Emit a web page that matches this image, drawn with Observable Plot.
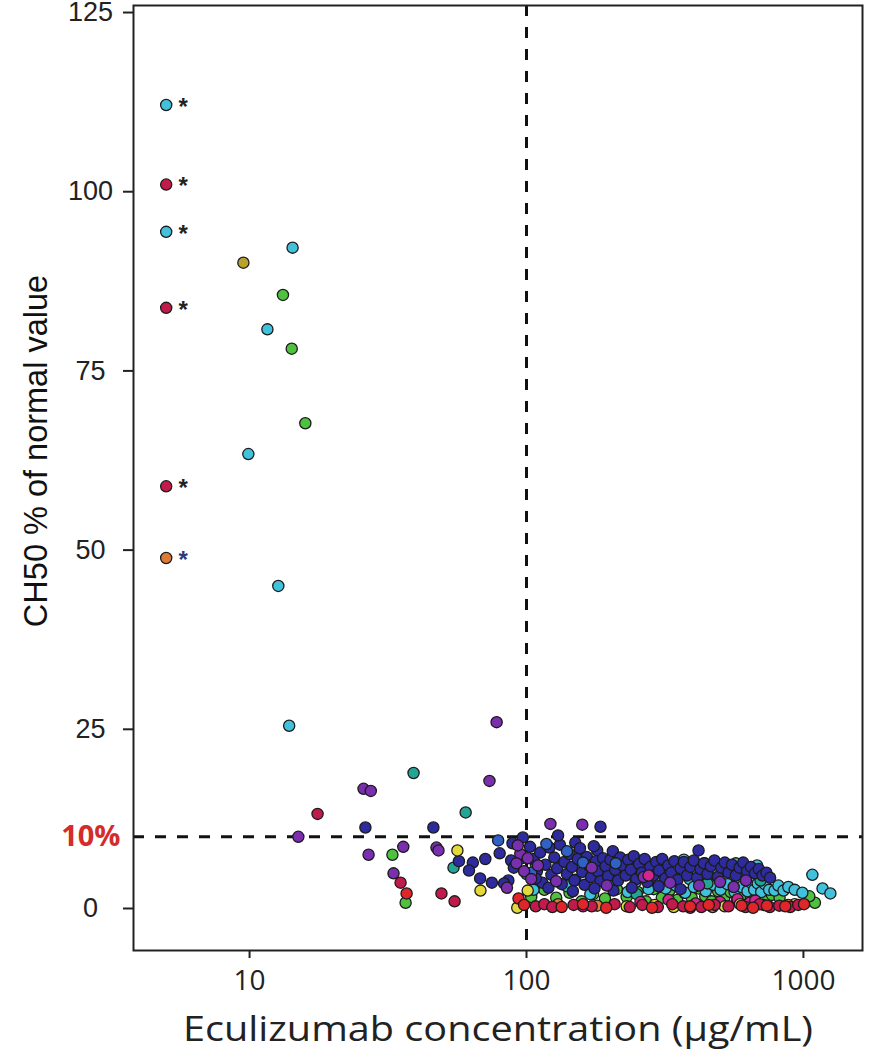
<!DOCTYPE html>
<html><head><meta charset="utf-8">
<script src="https://cdn.jsdelivr.net/npm/d3@7"></script>
<script src="https://cdn.jsdelivr.net/npm/@observablehq/plot@0.6"></script>
<style>body{margin:0;background:#fff}#chart svg{display:block}</style>
</head><body><div id="chart"></div>
<script>
// ---- data: [eculizumab concentration (µg/mL), CH50 % of normal value] ----
const navy = [[26.2,11.3],[46.1,11.3],[89,9.1],[64,6.4],[71,6.9],[80,7.7],[88,6.7],[90,5.7],[86,3.9],[83,3.5],[75,3.6],[68,4.2],[62,5.3],[57,6.6],[97,9.9],
 [185,11.4],[150,9.2],[180,8.1],[418,8.1],
 [103,8.6],[106,6.9],[109,5.2],[112,7.8],[114,3.6],[117,6.1],[121,8.5],[123,4.7],[126,7.1],[129,5.6],[132,8.9],[134,3.4],[137,6.5],[140,4.8],[143,7.6],[146,5.8],[149,3.9],[153,6.9],[156,8.4],[159,5.1],[162,3.3],[165,7.2],[168,6.0],[171,4.4],[175,8.7],[178,6.6],[181,5.2],[185,3.8],[189,7.0],[193,5.9],[197,4.5],[201,6.8],[205,8.0],[209,5.4],[214,3.9],[218,7.1],[223,6.0],[228,4.6],[233,6.8],[238,5.4],[244,7.3],[249,4.1],[255,6.2],[261,5.0],[267,6.9],[273,3.7],[280,5.8],[287,4.6],[294,6.5],[301,5.3],[309,6.9],[317,4.2],[325,6.0],[333,5.0],[342,6.6],[351,4.0],[360,5.6],[370,6.5],[380,4.6],[391,5.8],[402,6.7],[413,4.3],[425,5.5],[437,6.3],[450,4.8],[463,5.9],[477,6.7],[491,4.4],[505,5.7],[520,6.4],[536,5.0],[552,6.1],[570,4.6],[588,5.7],[606,6.4],[626,5.2],[646,5.8],[668,4.9],[690,5.5],[712,4.6],[735,5.0],[758,4.3],
 [120,2.9],[147,2.4],[176,2.8],[206,2.5],[240,2.9],[300,3.1],[360,2.7],[108,4.2],[130,10.2]];
const blue = [[79,9.5],[118,9.0],[96,7.0],[140,8.0],[210,6.3],[104,5.0],[160,6.4]];
const purple = [[15,10.0],[25.8,16.7],[27.4,16.4],[26.9,7.5],[33.1,4.9],[35.9,8.6],[47.3,8.5],[48.1,8.1],[73.5,17.8],[78,26.0],[122,11.8],[159,11.7],[95,7.6],[92,6.3],[98,5.2],[101,7.0],[104,4.1],[93,8.8],[110,6.0],[128,3.8],[172,5.7],[195,3.2],[265,4.4],[330,3.6],[420,3.2],[500,3.7],[560,3.0],[620,3.9],[85,2.9]];
const cyan = [[5,112.1],[5,94.4],[14.3,92.2],[11.6,80.8],[9.9,63.4],[12.7,45.0],[13.9,25.5],
 [106,2.6],[140,3.1],[170,2.0],[200,3.4],[216,4.3],[232,2.3],[248,3.7],[262,4.9],[276,2.7],[290,4.0],[305,5.2],[318,2.8],[332,4.3],[346,3.2],[360,5.0],[374,2.2],[388,4.1],[402,3.0],[416,5.2],[430,3.8],[444,2.4],[458,4.6],[472,3.3],[487,5.5],[502,2.6],[517,4.3],[532,3.4],[548,5.3],[564,2.3],[580,4.1],[596,3.0],[612,4.8],[628,2.4],[646,3.6],[664,2.6],[684,3.5],[704,2.3],[726,3.4],[752,2.6],[786,2.5],[812,3.2],[847,2.5],[882,3.0],[930,2.6],[991,2.2],[1077,4.7],[1172,2.8],[1251,2.1],[525,6.1],[570,6.3],[600,5.8],[640,5.1],[680,6.0],[440,6.3],[370,6.8]];
const teal = [[39.1,18.9],[60.3,13.4],[54.5,5.7],[100,4.8],[108,6.2],[300,3.8],[450,3.5],[250,2.0],[700,3.9],[150,4.0]];
const green = [[13.2,85.6],[14.2,78.1],[15.9,67.7],[32.8,7.5],[36.6,0.8],
 [104,1.6],[116,2.6],[128,1.5],[143,2.2],[158,1.0],[174,2.0],[192,1.4],[212,2.7],[230,1.6],[252,2.3],[270,1.0],[288,2.7],[308,1.5],[328,2.5],[350,1.2],[372,2.2],[395,1.5],[418,2.8],[442,1.7],[466,1.0],[492,2.4],[518,1.5],[546,2.3],[576,1.1],[610,2.0],[646,1.3],[684,2.4],[724,1.6],[770,1.9],[820,1.5],[1100,0.8],[1050,1.7]];
const magenta = [[258,0.9],[326,1.2],[408,0.7],[500,0.9],[578,1.3],[640,0.8],[718,0.5],[160,0.3],[276,4.6],[390,0.1],[670,1.1]];
const yellow = [[56.3,8.1],[68.2,2.5],[92.6,0.1],[101,2.5],[230,0.3],[290,0.5],[520,0.3],[590,0.6],[930,0.6],[340,0.2]];
const olive = [[9.5,90.1]];
const orange = [[5,48.9],[130,0.6],[470,0.2],[880,0.5],[180,0.4]];
const crimson = [[5,101.0],[5,83.8],[5,58.9],[17.6,13.2],[35.1,3.6],[49.3,2.1],[55.0,1.0],
 [108,0.3],[116,0.6],[124,0.2],[148,0.5],[172,0.3],[208,0.6],[236,0.2],[262,0.5],[298,0.2],[336,0.6],[368,0.3],[428,0.2],[478,0.5],[536,0.3],[618,0.2],[695,0.6],[756,0.2],[818,0.4],[896,0.2],[958,0.5]];
const red = [[36.9,2.1],[93.6,1.4],[98,0.5],[134,0.2],[194,0.1],[284,0.1],[390,0.3],[455,0.5],[598,0.4],[658,0.1],[738,0.4],[860,0.3],[1005,0.6],[160,0.6]];

// patients marked with an asterisk (lowest concentration group)
const starConc = [5,5,5,5,5,5];
const starCH50 = [112.1,101.0,94.4,83.8,58.9,48.9];
const starColor = ["#222","#222","#222","#222","#222","#2a3a7a"];

const xTicks = [10,100,1000];
const yTicks = [0,25,50,75,100,125];
const thresholdConc = [100];
const thresholdCH50 = [10];
const xLabel = "Eculizumab concentration (µg/mL)";
const yLabel = "CH50 % of normal value";
const thresholdLabel = "10%";

const groupNames = ["G1","G2","G3","G4","G5","G6","G7","G8","G9","G10","G11","G12"];
const groupColors = ["#4ec23e","#41c1dc","#22a595","#2e2c9c","#2f62c4","#7a2fae","#d3248f","#e4d93a","#b9a22b","#db7b36","#c11b4c","#e1262b"];
const groupData = [green,cyan,teal,navy,blue,purple,magenta,yellow,olive,orange,crimson,red];

const points = groupData.flatMap((arr, gi) => arr.map(([conc, ch50]) => ({group: groupNames[gi], conc, ch50})));
const stars = starConc.map((c, i) => ({conc: c, ch50: starCH50[i], color: starColor[i]}));

const chart = Plot.plot({
  width: 873, height: 1050,
  marginLeft: 133, marginRight: 11, marginTop: 5, marginBottom: 100,
  style: {background: "#fff"},
  x: {type: "log", domain: [3.81, 1634]},
  y: {domain: [-5.86, 125.98]},
  color: {type: "ordinal", domain: groupNames, range: groupColors},
  marks: [
    Plot.ruleX(thresholdConc, {stroke: "#111", strokeWidth: 3, strokeDasharray: "11,11"}),
    Plot.ruleY(thresholdCH50, {stroke: "#111", strokeWidth: 3, strokeDasharray: "11,11"}),
    Plot.dot(points, {x: "conc", y: "ch50", fill: "group", stroke: "#1b1b1b", strokeWidth: 1.3, r: 5.6}),
    Plot.text(stars, {x: "conc", y: "ch50", text: () => "*", dx: 17, dy: 2, fontSize: 24, fontWeight: "bold", fontFamily: "Liberation Sans, Arial, sans-serif", fill: d => d.color}),
    Plot.frame({stroke: "#222", strokeWidth: 2}),
    Plot.axisY({ticks: yTicks, tickSize: 10, tickPadding: 33, textAnchor: "middle", fontSize: 27, fontFamily: "Liberation Sans, Arial, sans-serif", color: "#222", strokeWidth: 2, label: null}),
    Plot.axisX({ticks: xTicks, tickSize: 8, tickPadding: 12, fontSize: 28, fontFamily: "Open Sans, sans-serif", color: "#222", strokeWidth: 2, label: null, tickFormat: d => String(d)}),
    Plot.text(thresholdCH50, {y: d => d, text: () => thresholdLabel, frameAnchor: "left", dx: -13, textAnchor: "end", fill: "#d42b2b", fontWeight: "bold", fontSize: 29, fontFamily: "Open Sans, sans-serif"}),
    Plot.text([yLabel], {text: d => d, frameAnchor: "left", textAnchor: "middle", lineAnchor: "middle", rotate: -90, dx: -97, dy: -27, fontSize: 32.5, fill: "#111", fontFamily: "Liberation Sans, Arial, sans-serif"}),
    Plot.text([xLabel], {text: d => d, frameAnchor: "bottom", textAnchor: "middle", lineAnchor: "bottom", dy: 90, fontSize: 35, fill: "#222", fontFamily: "Open Sans, sans-serif"})
  ]
});
// the reference figure is slightly stretched horizontally: widen the axis title to its span
d3.select(chart).selectAll("text").filter(function() { return this.textContent === xLabel; })
  .attr("textLength", 630).attr("lengthAdjust", "spacingAndGlyphs");
document.getElementById("chart").append(chart);
</script>
</body></html>
